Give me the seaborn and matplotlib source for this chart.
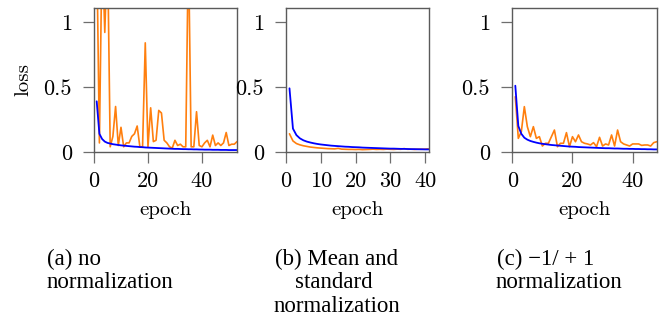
import numpy as np
import matplotlib
matplotlib.use("Agg")
import matplotlib.pyplot as plt
import seaborn as sns

# ---------------------------------------------------------------
# valores
# ---------------------------------------------------------------
blue_a = [0.39, 0.14, 0.10, 0.08, 0.07, 0.065, 0.06, 0.057, 0.054, 0.051,
          0.049, 0.047, 0.045, 0.043, 0.041, 0.04, 0.038, 0.037, 0.035, 0.034,
          0.033, 0.032, 0.031, 0.03, 0.029, 0.028, 0.027, 0.026, 0.025, 0.024,
          0.024, 0.023, 0.022, 0.022, 0.021, 0.021, 0.02, 0.02, 0.019, 0.019,
          0.018, 0.018, 0.018, 0.017, 0.017, 0.017, 0.016, 0.016, 0.016, 0.015,
          0.015, 0.015, 0.015]
orange_a = [1.6, 0.07, 1.6, 0.92, 1.6, 0.04, 0.12, 0.35, 0.05, 0.19,
            0.04, 0.07, 0.07, 0.12, 0.14, 0.2, 0.04, 0.04, 0.84, 0.04,
            0.34, 0.08, 0.09, 0.32, 0.3, 0.09, 0.07, 0.04, 0.03, 0.09,
            0.05, 0.06, 0.04, 0.04, 1.6, 0.04, 0.04, 0.31, 0.05, 0.04,
            0.07, 0.09, 0.04, 0.13, 0.05, 0.07, 0.05, 0.07, 0.15, 0.05,
            0.06, 0.06, 0.08]

blue_b = [0.49, 0.18, 0.13, 0.105, 0.09, 0.08, 0.073, 0.067, 0.062, 0.058,
          0.055, 0.052, 0.049, 0.047, 0.045, 0.043, 0.041, 0.04, 0.038, 0.037,
          0.036, 0.034, 0.033, 0.032, 0.031, 0.03, 0.029, 0.028, 0.027, 0.026,
          0.026, 0.025, 0.024, 0.024, 0.023, 0.022, 0.022, 0.021, 0.021, 0.02,
          0.02]
orange_b = [0.14, 0.085, 0.065, 0.055, 0.048, 0.043, 0.038, 0.035, 0.032, 0.03,
            0.028, 0.026, 0.025, 0.024, 0.028, 0.022, 0.021, 0.02, 0.02, 0.019,
            0.02, 0.018, 0.019, 0.02, 0.022, 0.02, 0.021, 0.02, 0.022, 0.021,
            0.02, 0.022, 0.021, 0.026, 0.021, 0.022, 0.02, 0.022, 0.021, 0.022,
            0.024]

blue_c = [0.51, 0.2, 0.14, 0.11, 0.095, 0.085, 0.078, 0.072, 0.067, 0.063,
          0.06, 0.057, 0.054, 0.052, 0.05, 0.048, 0.046, 0.044, 0.042, 0.041,
          0.04, 0.038, 0.037, 0.036, 0.035, 0.034, 0.033, 0.032, 0.031, 0.03,
          0.029, 0.029, 0.028, 0.027, 0.027, 0.026, 0.025, 0.025, 0.024, 0.024,
          0.023, 0.023, 0.022, 0.022, 0.021, 0.021, 0.02, 0.02]
orange_c = [0.425, 0.105, 0.156, 0.349, 0.195, 0.118, 0.195, 0.105, 0.118, 0.046,
            0.067, 0.067, 0.118, 0.169, 0.041, 0.067, 0.067, 0.149, 0.041, 0.118,
            0.079, 0.131, 0.079, 0.067, 0.062, 0.054, 0.072, 0.041, 0.113, 0.046,
            0.062, 0.054, 0.131, 0.046, 0.169, 0.079, 0.062, 0.054, 0.046, 0.062,
            0.062, 0.062, 0.051, 0.054, 0.054, 0.046, 0.072, 0.079]

xlims = [53, 41, 48]
xticks = [[0, 20, 40], [0, 10, 20, 30, 40], [0, 20, 40]]
yticks = [0, 0.5, 1]

# legendas: (texto, x em pixels, alinhamento)
captions = [
    [("(a) no", 47, "left"), ("normalization", 47, "left")],
    [("(b) Mean and", 337, "center"), ("standard", 334, "center"),
     ("normalization", 337, "center")],
    [("(c) \u22121/ + 1", 497, "left"), ("normalization", 496, "left")],
]

# ---------------------------------------------------------------
sns.set_theme(style="ticks")
plt.rcParams["font.family"] = ["cmr10", "DejaVu Serif"]
plt.rcParams["axes.unicode_minus"] = False
plt.rcParams["text.color"] = "black"
plt.rcParams["axes.labelcolor"] = "black"

W, H = 660, 323
fig = plt.figure(figsize=(W / 100, H / 100), dpi=100)

# posicoes em pixels (esq, dir) de cada painel
caixas = [(94, 237), (286, 428.5), (512.3, 656.7)]
topo, base = 8, 152

series = [(blue_a, orange_a), (blue_b, orange_b), (blue_c, orange_c)]

for i, ((x0, x1), (azul, laranja)) in enumerate(zip(caixas, series)):
    ax = fig.add_axes([x0 / W, 1 - base / H, (x1 - x0) / W, (base - topo) / H])
    ep_azul = np.arange(1, len(azul) + 1)
    ep_lar = np.arange(1, len(laranja) + 1)
    sns.lineplot(x=ep_lar, y=laranja, color="#ff7f0e", linewidth=1.2, ax=ax)
    sns.lineplot(x=ep_azul, y=azul, color="#0000ff", linewidth=1.3, ax=ax)
    ax.set_xlim(0, xlims[i])
    ax.set_ylim(0, 1.108)
    ax.set_xticks(xticks[i])
    ax.set_yticks(yticks)
    ax.yaxis.set_major_formatter(matplotlib.ticker.FormatStrFormatter("%g"))
    ax.tick_params(axis="both", direction="out", length=8, width=0.9,
                   color="#6e6e6e", labelsize=16, labelcolor="black")
    ax.tick_params(axis="y", pad=8)
    ax.tick_params(axis="x", pad=6)
    for s in ax.spines.values():
        s.set_visible(True)
        s.set_color("#5a5a5a")
        s.set_linewidth(1.0)
    ax.set_xlabel("epoch", fontsize=15, labelpad=7, color="black")
    if i == 0:
        ax.set_ylabel("loss", fontsize=15, labelpad=8, color="black")

linhas_y = [259, 283, 307]
for cap in captions:
    for k, (txt, xpx, ha) in enumerate(cap):
        fig.text(xpx / W, 1 - linhas_y[k] / H, txt, ha=ha, va="center",
                 fontsize=16.5, family="Liberation Serif", color="black")

fig.savefig("out.png", dpi=100)
